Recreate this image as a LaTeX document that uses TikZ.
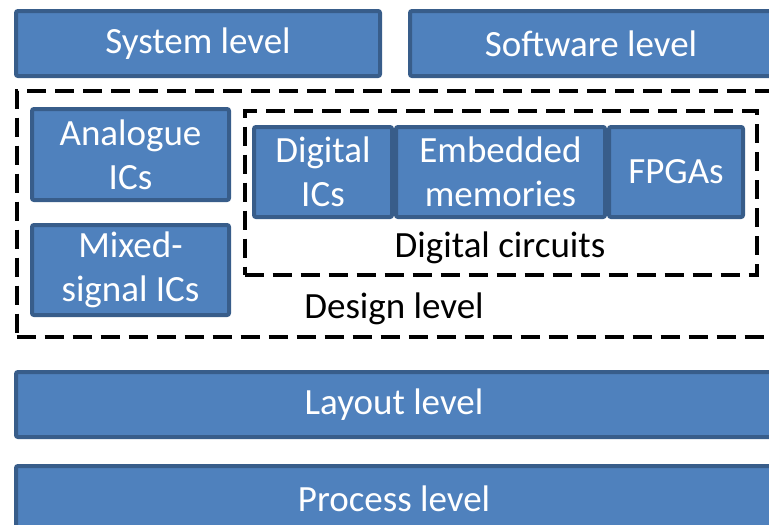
\documentclass[tikz,border=0pt]{standalone}
\usepackage{fontspec}
\setmainfont{Carlito}
\definecolor{boxfill}{HTML}{4F81BD}
\definecolor{boxline}{HTML}{385D8A}

\begin{document}
\begin{tikzpicture}[x=1pt, y=-1pt,
   level/.style={draw=boxline, fill=boxfill, line width=4pt, rounded corners=2pt,
      text=white, inner sep=0pt, align=center, font=\fontsize{37}{44}\selectfont},
   group/.style={draw=black, line width=4pt, dash pattern=on 19pt off 9pt, inner sep=0pt},
   caption/.style={anchor=base, inner sep=0pt, font=\fontsize{37}{44}\selectfont}]
   \useasboundingbox (0,0) rectangle (769,525);
   \clip (0,0) rectangle (769,525);

   \node[group, minimum width=773.5pt, minimum height=246pt] (design) at (403.25,213.5) {};
   \node[group, minimum width=512pt, minimum height=164pt] (digital) at (500.5,192.5) {};

   \node[level, minimum width=364pt, minimum height=65pt] (sys) at (198,43.5) {System level};
   \node[level, minimum width=362pt, minimum height=65pt] (sw) at (591,43.5) {Software level};

   \node[level, minimum width=197pt, minimum height=91pt] (ana) at (130.5,154.5) {Analogue\\ICs};
   \node[level, minimum width=197pt, minimum height=90pt] (mix) at (130.5,270) {Mixed-\\signal ICs};

   \node[level, minimum width=138pt, minimum height=90pt] (dic) at (323,172) {Digital\\ICs};
   \node[level, minimum width=134pt, minimum height=90pt] (fpga) at (676,172) {FPGAs};
   \node[level, minimum width=209pt, minimum height=90pt] (mem) at (500.5,172) {Embedded\\memories};

   \node[caption] (diglbl) at (500,257) {Digital circuits};
   \node[caption] (deslbl) at (394,318) {Design level};

   \node[level, minimum width=756pt, minimum height=65pt] (lay) at (394,404.5) {Layout level};
   \node[level, minimum width=756pt, minimum height=65pt] (proc) at (394,498.5) {Process level};
\end{tikzpicture}
\end{document}
